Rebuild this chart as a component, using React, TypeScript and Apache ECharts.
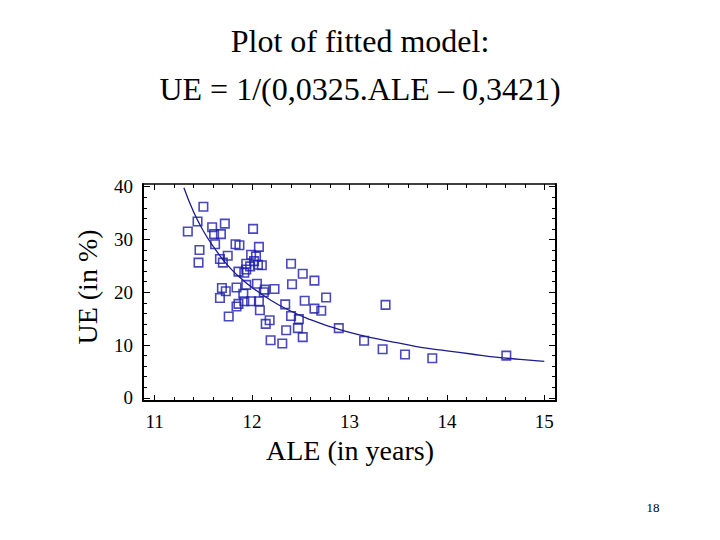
import React, { useEffect, useRef } from "react";
import * as echarts from "echarts";

const titleLines = ["Plot of fitted model:", "UE = 1/(0,0325.ALE – 0,3421)"];
const xName = "ALE (in years)";
const yName = "UE (in %)";
const pageNumber = "18";

const xLabels = [11, 12, 13, 14, 15];
const xTicks = [11, 11.2, 11.4, 11.6, 11.8, 12, 12.2, 12.4, 12.6, 12.8, 13, 13.2, 13.4, 13.6, 13.8, 14, 14.2, 14.4, 14.6, 14.8, 15];
const yLabels = [0, 10, 20, 30, 40];
const yTicks = [0, 2, 4, 6, 8, 10, 12, 14, 16, 18, 20, 22, 24, 26, 28, 30, 32, 34, 36, 38, 40];

const observed: [number, number][] = [
  [11.5, 36.2], [11.44, 33.4], [11.34, 31.5], [11.59, 32.3], [11.72, 33.0],
  [11.61, 31.0], [11.68, 31.0], [12.01, 32.0], [11.62, 29.1], [11.46, 28.0],
  [11.45, 25.6], [11.83, 29.1], [11.87, 28.9], [12.07, 28.6], [11.75, 26.9],
  [11.67, 26.3], [11.7, 25.6], [11.99, 27.1], [12.04, 26.8], [12.02, 25.9],
  [12.06, 25.2], [12.1, 25.1], [11.94, 25.4], [11.98, 24.9], [11.86, 23.9],
  [11.92, 23.7], [11.94, 24.3], [12.4, 25.4], [11.69, 20.8], [11.73, 20.2],
  [11.67, 18.9], [11.84, 20.9], [11.94, 21.4], [12.05, 21.6], [12.13, 20.5],
  [12.12, 20.0], [12.23, 20.6], [12.41, 21.5], [11.91, 19.7], [11.84, 17.3],
  [11.86, 17.8], [11.92, 18.3], [11.99, 18.3], [12.07, 18.3], [12.08, 16.6],
  [11.76, 15.4], [12.34, 17.7], [12.4, 15.5], [12.18, 14.7], [12.14, 14.0],
  [12.35, 12.8], [12.19, 10.9], [12.31, 10.3], [12.52, 23.5], [12.64, 22.2],
  [12.54, 18.4], [12.76, 19.0], [12.64, 16.9], [12.71, 16.5], [12.48, 14.9],
  [12.47, 13.2], [12.52, 11.5], [12.89, 13.2], [13.37, 17.6], [13.15, 10.8],
  [13.34, 9.2], [13.57, 8.2], [13.85, 7.5], [14.61, 8.0],
];

const fittedCurve: [number, number][] = [
  [11.3, 39.8], [11.4, 35.2], [11.5, 31.6], [11.6, 28.7], [11.7, 26.2],
  [11.8, 24.1], [11.9, 22.4], [12.0, 20.9], [12.2, 18.4], [12.4, 16.4],
  [12.6, 14.8], [12.8, 13.5], [13.0, 12.4], [13.25, 11.3], [13.5, 10.4],
  [13.75, 9.5], [14.0, 8.9], [14.25, 8.3], [14.5, 7.7], [14.75, 7.3], [15.0, 6.9],
];

const SERIF = "Liberation Serif";

export default function App() {
  const ref = useRef<HTMLDivElement>(null);

  useEffect(() => {
    if (!ref.current) return;
    const chart = echarts.init(ref.current, undefined, { renderer: "svg" });

    const xRange = { min: 10.88, max: 15.12 };
    const yRange = { min: -0.6, max: 40.5 };

    const mkX = (position: string, lineW: number, ticks: number[], len: number, labels: boolean, showLine: boolean) => ({
      type: "value",
      position,
      ...xRange,
      axisLine: { show: showLine, onZero: false, lineStyle: { color: "#000", width: lineW } },
      axisTick: { show: true, inside: true, length: len, customValues: ticks, lineStyle: { color: "#000", width: 1 } },
      axisLabel: labels
        ? { show: true, customValues: xLabels, color: "#000", fontFamily: SERIF, fontSize: 19, margin: 11 }
        : { show: false },
      splitLine: { show: false },
    });
    const mkY = (position: string, lineW: number, ticks: number[], len: number, labels: boolean, showLine: boolean) => ({
      type: "value",
      position,
      ...yRange,
      axisLine: { show: showLine, onZero: false, lineStyle: { color: "#000", width: lineW } },
      axisTick: { show: true, inside: true, length: len, customValues: ticks, lineStyle: { color: "#000", width: 1 } },
      axisLabel: labels
        ? { show: true, customValues: yLabels, color: "#000", fontFamily: SERIF, fontSize: 19, margin: 10 }
        : { show: false },
      splitLine: { show: false },
    });

    const txt = (text: string, x: number, y: number, fontSize: number, rotation = 0) => ({
      type: "text",
      x,
      y,
      rotation,
      style: {
        text,
        fontSize,
        fontFamily: SERIF,
        fill: "#000",
        align: "center",
        verticalAlign: "middle",
        textAlign: "center",
        textVerticalAlign: "middle",
      },
    });

    chart.setOption({
      animation: false,
      backgroundColor: "#fff",
      textStyle: { fontFamily: SERIF },
      grid: { left: 143, right: 164, top: 184, bottom: 139, containLabel: false },
      xAxis: [
        mkX("bottom", 2, xTicks, 4, true, true),
        mkX("bottom", 2, xLabels, 6, false, false),
        mkX("top", 1.5, xTicks, 4, false, true),
        mkX("top", 1.5, xLabels, 6, false, false),
      ],
      yAxis: [
        mkY("left", 2, yTicks, 4, true, true),
        mkY("left", 2, yLabels, 7, false, false),
        mkY("right", 2, yTicks, 4, false, true),
        mkY("right", 2, yLabels, 7, false, false),
      ],
      graphic: [
        txt(titleLines[0], 360, 41, 32),
        txt(titleLines[1], 360, 89, 32),
        txt(xName, 350, 450, 28),
        txt(yName, 87, 287, 28, Math.PI / 2),
        txt(pageNumber, 653, 507, 13),
      ],
      series: [
        {
          type: "line",
          xAxisIndex: 0,
          yAxisIndex: 0,
          data: fittedCurve,
          smooth: true,
          showSymbol: false,
          lineStyle: { color: "#1c1c8e", width: 1.3 },
          silent: true,
        },
        {
          type: "scatter",
          xAxisIndex: 0,
          yAxisIndex: 0,
          data: observed,
          symbol: "rect",
          symbolSize: 8.5,
          itemStyle: { color: "rgba(0,0,0,0)", borderColor: "#1c1caa", borderWidth: 1.6 },
        },
      ],
    });

    return () => chart.dispose();
  }, []);

  return (
    <div
      ref={ref}
      style={{ position: "fixed", left: 0, top: 0, width: 720, height: 540, background: "#fff" }}
    />
  );
}
